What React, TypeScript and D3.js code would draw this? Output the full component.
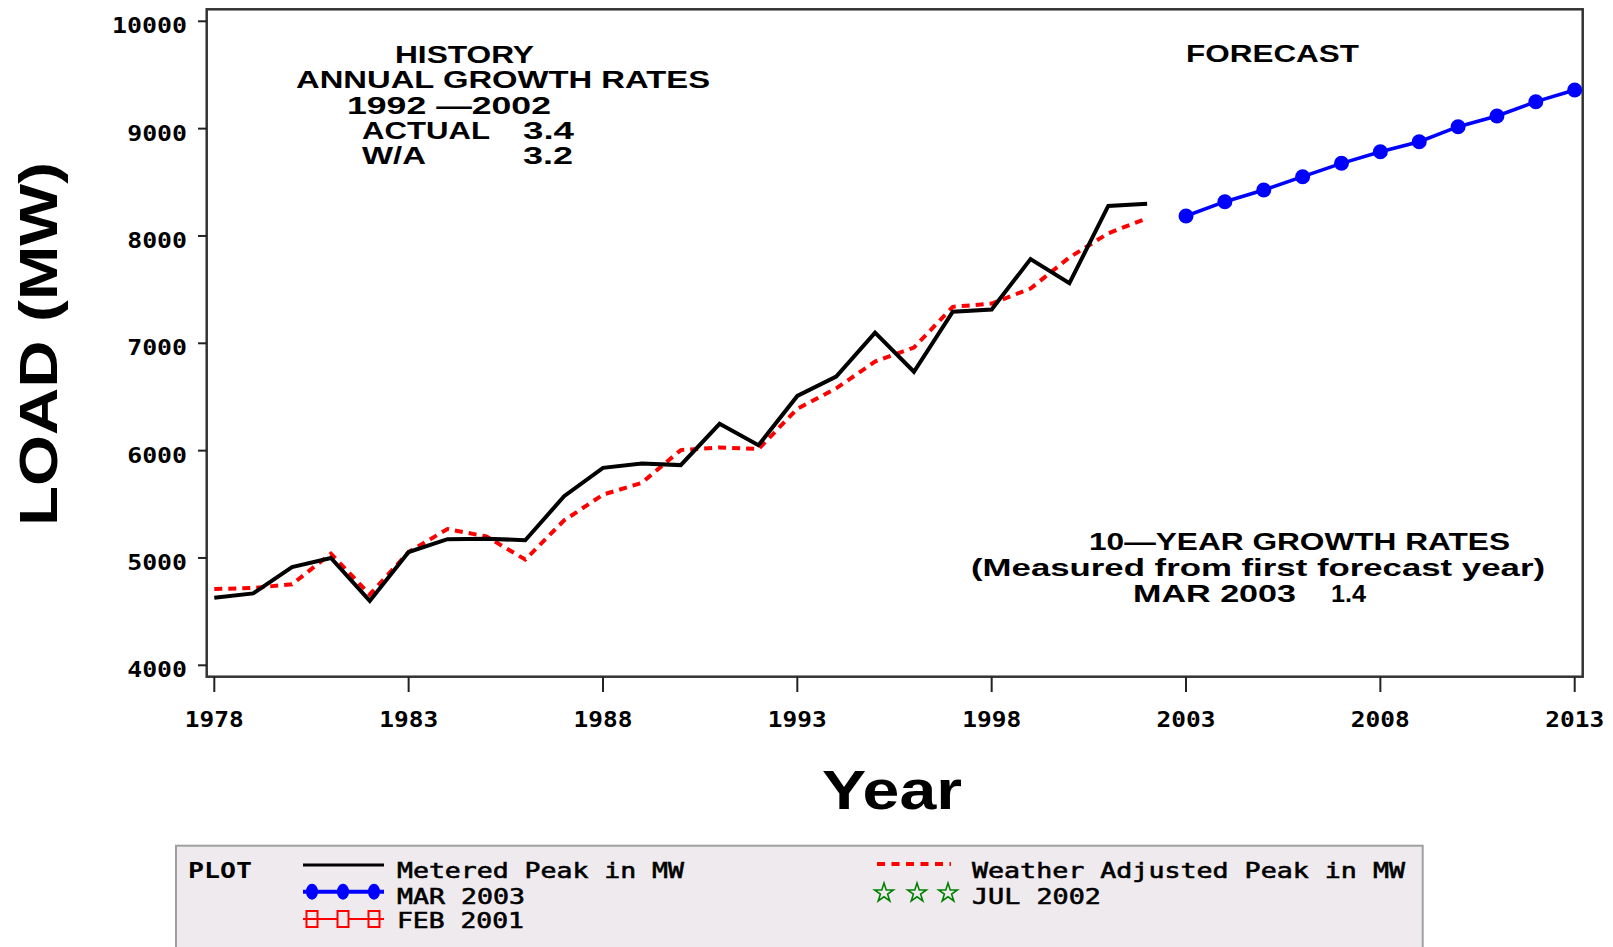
import React from 'react';
import * as d3 from 'd3';

// ---------- data ----------
const historyYears = [1978, 1979, 1980, 1981, 1982, 1983, 1984, 1985, 1986, 1987, 1988, 1989, 1990, 1991, 1992, 1993, 1994, 1995, 1996, 1997, 1998, 1999, 2000, 2001, 2002];
const meteredPeak = [4630, 4670, 4915, 5000, 4600, 5055, 5175, 5180, 5165, 5575, 5840, 5880, 5865, 6250, 6050, 6510, 6690, 7100, 6735, 7295, 7315, 7785, 7560, 8280, 8300];
const weatherAdjustedPeak = [4710, 4720, 4755, 5040, 4660, 5055, 5270, 5200, 4985, 5350, 5590, 5700, 6005, 6030, 6015, 6390, 6580, 6830, 6960, 7340, 7370, 7510, 7800, 8025, 8165];
const forecastYears = [2003, 2004, 2005, 2006, 2007, 2008, 2009, 2010, 2011, 2012, 2013];
const forecastMar2003 = [8186, 8319, 8428, 8552, 8677, 8785, 8878, 9018, 9118, 9251, 9360];
const xTickValues = [1978, 1983, 1988, 1993, 1998, 2003, 2008, 2013];
const yTickValues = [4000, 5000, 6000, 7000, 8000, 9000, 10000];

const W = 1613;
const H = 947;
const frame = { left: 206.7, top: 9.3, right: 1582.7, bottom: 676.7 };

const ANN_FONT = '"Liberation Sans", Arial, sans-serif';
const MONO = '"DejaVu Sans Mono", monospace';

function Ann({ x, y, w, text, size = 23, weight = 'bold', anchor = 'start' }: any) {
  return (
    <text x={x} y={y} textLength={w} lengthAdjust="spacingAndGlyphs" fontFamily={ANN_FONT}
      fontSize={size} fontWeight={weight} textAnchor={anchor} fill="#000">{text}</text>
  );
}

function Leg({ x, y, w, text }: any) {
  return (
    <text x={x} y={y} fontFamily={MONO} fontSize={22} textLength={w} lengthAdjust="spacingAndGlyphs"
      fill="#000" stroke="#000" strokeWidth={0.6}>{text}</text>
  );
}

export default function App() {
  const x = d3.scaleLinear().domain([1978, 2013]).range([214.3, 1574.7]);
  const y = d3.scaleLinear().domain([4000, 10000]).range([665.3, 21.3]);
  const line = d3.line<[number, number]>().x(d => x(d[0])).y(d => y(d[1]));

  const metered = historyYears.map((yr, i) => [yr, meteredPeak[i]] as [number, number]);
  const weather = historyYears.map((yr, i) => [yr, weatherAdjustedPeak[i]] as [number, number]);
  const forecast = forecastYears.map((yr, i) => [yr, forecastMar2003[i]] as [number, number]);

  const star = d3.symbol().type(d3.symbolStar).size(110)() as string;

  return (
    <div style={{ position: 'fixed', left: 0, top: 0 }}>
      <svg width={W} height={H} style={{ display: 'block', background: '#fff' }}>
        {/* frame */}
        <rect x={frame.left} y={frame.top} width={frame.right - frame.left} height={frame.bottom - frame.top}
          fill="none" stroke="#333" strokeWidth={2.5} />

        {/* y ticks */}
        {yTickValues.map(v => (
          <g key={'y' + v}>
            <line x1={198} x2={frame.left} y1={y(v)} y2={y(v)} stroke="#222" strokeWidth={2} />
            <text x={187} y={y(v) + 12} textAnchor="end" fontFamily={MONO} fontWeight="bold" fontSize={22}
              textLength={String(v).length * 15.2 - 1} lengthAdjust="spacingAndGlyphs">{v}</text>
          </g>
        ))}
        {/* x ticks */}
        {xTickValues.map(v => (
          <g key={'x' + v}>
            <line x1={x(v)} x2={x(v)} y1={frame.bottom} y2={692} stroke="#222" strokeWidth={2} />
            <text x={x(v) - 29.5} y={727} fontFamily={MONO} fontWeight="bold" fontSize={22}
              textLength={59} lengthAdjust="spacingAndGlyphs">{v}</text>
          </g>
        ))}

        {/* axis titles */}
        <text transform="translate(56.7,344) rotate(-90)" textAnchor="middle" fontFamily={ANN_FONT}
          fontWeight="bold" fontSize={53} textLength={364} lengthAdjust="spacingAndGlyphs">LOAD (MW)</text>
        <text x={822} y={809} fontFamily={ANN_FONT} fontWeight="bold" fontSize={56}
          textLength={140} lengthAdjust="spacingAndGlyphs">Year</text>

        {/* data lines */}
        <path d={line(weather) as string} fill="none" stroke="#ff0000" strokeWidth={4} strokeDasharray="8,6" />
        <path d={line(metered) as string} fill="none" stroke="#000" strokeWidth={4} strokeLinejoin="miter" />
        <path d={line(forecast) as string} fill="none" stroke="#0000ff" strokeWidth={3.5} />
        {forecast.map(d => (
          <circle key={d[0]} cx={x(d[0])} cy={y(d[1])} r={7.5} fill="#0000ff" />
        ))}

        {/* annotations */}
        <Ann x={395} y={62.5} w={139} text="HISTORY" />
        <Ann x={296} y={88.3} w={414} text="ANNUAL GROWTH RATES" />
        <Ann x={347} y={114.3} w={204} text="1992 —2002" />
        <Ann x={362} y={139.3} w={128} text="ACTUAL" />
        <Ann x={523} y={139.3} w={51} text="3.4" />
        <Ann x={362} y={164} w={64} text="W/A" />
        <Ann x={523} y={164} w={50} text="3.2" />
        <Ann x={1186} y={61.7} w={173} text="FORECAST" />
        <Ann x={1089} y={550} w={421} text="10—YEAR GROWTH RATES" />
        <Ann x={971} y={575.5} w={574} text="(Measured from first forecast year)" />
        <Ann x={1133} y={602} w={163} text="MAR 2003" />
        <Ann x={1331} y={602} w={35} text="1.4" />

        {/* legend */}
        <rect x={176} y={845.7} width={1422.7 - 176} height={140} fill="#eeeaee" stroke="#a0a0a0" strokeWidth={2} />
        <text x={188} y={878.3} fontFamily={MONO} fontWeight="bold" fontSize={22} textLength={64}
          lengthAdjust="spacingAndGlyphs">PLOT</text>
        {/* Metered */}
        <line x1={303} x2={384} y1={865} y2={865} stroke="#000" strokeWidth={3} />
        <Leg x={397} y={878.3} w={287} text="Metered Peak in MW" />
        {/* MAR 2003 */}
        <line x1={303} x2={384} y1={891.7} y2={891.7} stroke="#0000ff" strokeWidth={4} />
        {[312, 343, 374].map(cx => <ellipse key={cx} cx={cx} cy={891.7} rx={6} ry={8} fill="#0000ff" />)}
        <Leg x={397} y={904.3} w={128} text="MAR 2003" />
        {/* FEB 2001 */}
        <line x1={303} x2={337} y1={919} y2={919} stroke="#ff0000" strokeWidth={2} />
        <line x1={349} x2={384} y1={919} y2={919} stroke="#ff0000" strokeWidth={2} />
        {[312, 343, 374].map(cx => <rect key={cx} x={cx - 5.5} y={911} width={11} height={16} fill="none" stroke="#ff0000" strokeWidth={2} />)}
        <Leg x={397} y={928.3} w={127} text="FEB 2001" />
        {/* Weather adjusted */}
        <line x1={877} x2={951} y1={864} y2={864} stroke="#ff0000" strokeWidth={4} strokeDasharray="8,6.5" />
        <Leg x={972} y={878.3} w={433} text="Weather Adjusted Peak in MW" />
        {/* JUL 2002 */}
        {[884, 917, 948].map(cx => <path key={cx} d={star} transform={`translate(${cx},893)`} fill="none" stroke="#008000" strokeWidth={1.6} />)}
        <Leg x={972} y={904.3} w={129} text="JUL 2002" />
      </svg>
    </div>
  );
}
